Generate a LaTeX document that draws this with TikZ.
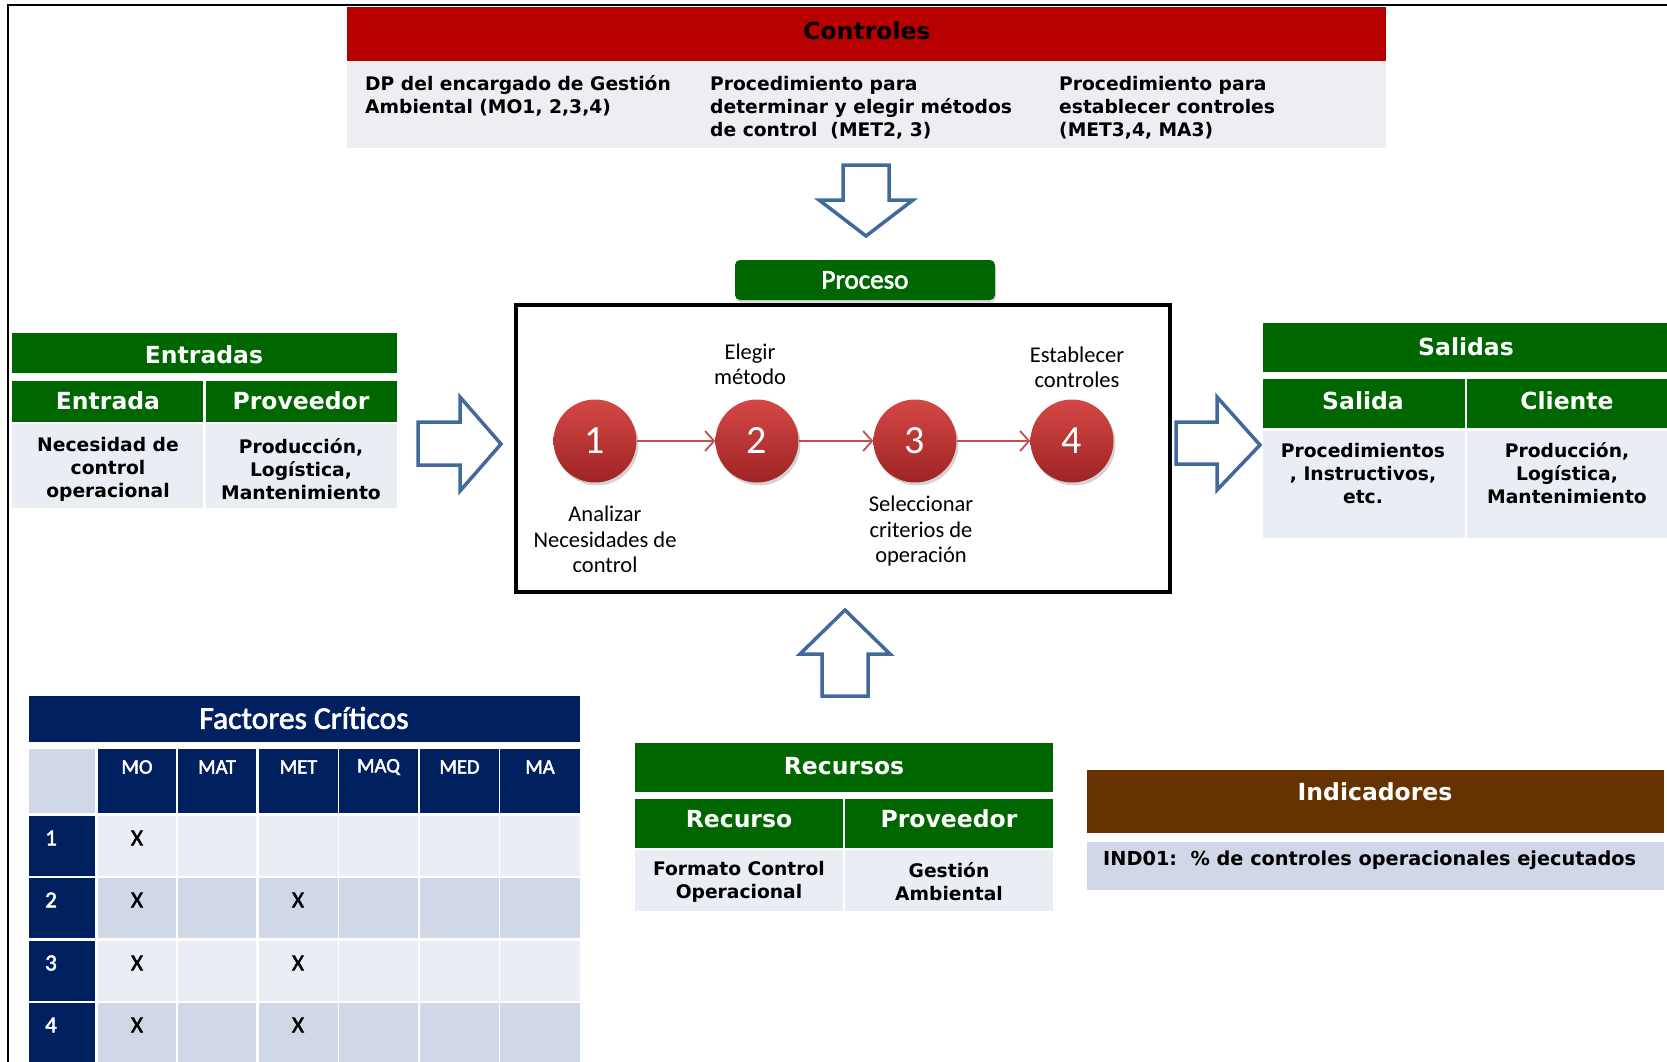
\documentclass[tikz,border=0pt]{standalone}
\usepackage{fontspec}
\setmainfont{DejaVu Sans}
\newfontfamily\calfont{Carlito}[AutoFakeBold=2.2]
\usetikzlibrary{arrows.meta,shadows}
\definecolor{hdrgreen}{RGB}{0,102,0}
\definecolor{hdrred}{RGB}{183,0,0}
\definecolor{hdrbrown}{RGB}{102,51,0}
\definecolor{navy}{RGB}{0,32,96}
\definecolor{paleA}{RGB}{233,237,244}
\definecolor{paleB}{RGB}{208,216,232}
\definecolor{paleC}{RGB}{237,238,242}
\definecolor{arrowblue}{RGB}{65,105,155}
\definecolor{flowred}{RGB}{192,80,77}
\definecolor{ballTop}{RGB}{212,72,70}
\definecolor{ballBot}{RGB}{158,36,36}

\begin{document}
\begin{tikzpicture}[x=1pt,y=-1pt,
  hdr/.style={text=white,font=\bfseries\fontsize{23.5}{28}\selectfont,inner sep=0pt},
  body/.style={font=\bfseries\fontsize{18.7}{23}\selectfont,align=center,inner sep=0pt},
  lbl/.style={font=\calfont\fontsize{22.5}{25.5}\selectfont,align=center,inner sep=0pt},
  fat/.style={draw=arrowblue,line width=3.5pt,fill=white,line join=miter},
  ball/.style={circle,minimum size=83pt,inner sep=0pt,top color=ballTop,bottom color=ballBot,
    text=white,font=\calfont\fontsize{40}{40}\selectfont,
    drop shadow={opacity=0.35,shadow xshift=2pt,shadow yshift=-3pt}},
  flow/.style={draw=flowred,line width=1.8pt,-{Straight Barb[length=9pt,width=20pt]}},
  fc/.style={font=\calfont\bfseries\fontsize{20.5}{24}\selectfont,inner sep=0pt},
  xcell/.style={font=\calfont\bfseries\fontsize{23}{24}\selectfont,inner sep=0pt},
]
\useasboundingbox (0,0) rectangle (1667,1062);
\clip (0,0) rectangle (1667,1062);

% outer frame
\draw[line width=2.5pt] (8,1075) -- (8,5) -- (1680,5);

% Controles
\fill[hdrred] (347,7) rectangle (1386,61);
\fill[paleC] (347,61) rectangle (1386,148);
\node[hdr,text=black] (ctrlT) at (867,31) {Controles};
\node[body,align=left,anchor=west] (ctrl1) at (365,96) {DP del encargado de Gestión\\Ambiental (MO1, 2,3,4)};
\node[body,align=left,anchor=west] (ctrl2) at (710,108) {Procedimiento para\\determinar y elegir métodos\\de control~ (MET2, 3)};
\node[body,align=left,anchor=west] (ctrl3) at (1059,108) {Procedimiento para\\establecer controles\\(MET3,4, MA3)};

% arrow from Controles down to the process
\draw[fat] (843,165) -- (889,165) -- (889,200) -- (913,200) -- (866,236) -- (819,200) -- (843,200) -- cycle;

% Proceso
\node[rectangle,rounded corners=5pt,fill=hdrgreen,minimum width=260pt,minimum height=40pt,
  drop shadow={opacity=0.3,shadow xshift=1pt,shadow yshift=-2.5pt},text=white,
  font=\calfont\bfseries\fontsize{27}{30}\selectfont,inner sep=0pt] (proc) at (865,280) {Proceso};
\draw[line width=3.5pt] (516,305) rectangle (1170,592);

\node[ball] (s1) at (595,441) {1};
\node[ball] (s2) at (757,441) {2};
\node[ball] (s3) at (915,441) {3};
\node[ball] (s4) at (1072,441) {4};
\draw[flow] (s1) -- (s2);
\draw[flow] (s2) -- (s3);
\draw[flow] (s3) -- (s4);

\node[lbl] (l2) at (750,364.5) {Elegir\\método};
\node[lbl] (l4) at (1077,367.5) {Establecer\\controles};
\node[lbl] (l1) at (605,539.5) {Analizar\\Necesidades de\\control};
\node[lbl] (l3) at (921,531) {Seleccionar\\criterios de\\operación};

% Entradas
\fill[hdrgreen] (12,333) rectangle (397,373);
\fill[hdrgreen] (12,381) rectangle (203,422);
\fill[hdrgreen] (206,381) rectangle (397,422);
\fill[paleA] (12,424) rectangle (203,508);
\fill[paleA] (206,424) rectangle (397,508);
\node[hdr] (inT) at (204,355) {Entradas};
\node[hdr] (inA) at (108,401) {Entrada};
\node[hdr] (inB) at (301,401) {Proveedor};
\node[body] (inA1) at (108,469) {Necesidad de\\control\\operacional};
\node[body] (inB1) at (301,469) {Producción,\\Logística,\\Mantenimiento};

\draw[fat] (418,422) -- (460,422) -- (460,397) -- (501,444) -- (460,491) -- (460,465) -- (418,465) -- cycle;

% Salidas
\fill[hdrgreen] (1263,323) rectangle (1680,372);
\fill[hdrgreen] (1263,379) rectangle (1465,428);
\fill[hdrgreen] (1467,379) rectangle (1680,428);
\fill[paleA] (1263,431) rectangle (1465,538);
\fill[paleA] (1467,431) rectangle (1680,538);
\node[hdr] (outT) at (1466,347) {Salidas};
\node[hdr] (outA) at (1363,401) {Salida};
\node[hdr] (outB) at (1567,401) {Cliente};
\node[body] (outA1) at (1363,473.5) {Procedimientos\\, Instructivos,\\etc.};
\node[body] (outB1) at (1567,473.5) {Producción,\\Logística,\\Mantenimiento};

\draw[fat] (1176,422) -- (1217,422) -- (1217,397) -- (1260,445) -- (1217,490) -- (1217,464) -- (1176,464) -- cycle;

% arrow from Recursos up to the process
\draw[fat] (822,696) -- (822,654) -- (800,654) -- (845,610) -- (890,654) -- (868,654) -- (868,696) -- cycle;

% Recursos
\fill[hdrgreen] (635,743) rectangle (1053,792);
\fill[hdrgreen] (635,799) rectangle (843,848);
\fill[hdrgreen] (845,799) rectangle (1053,848);
\fill[paleA] (635,850) rectangle (843,911);
\fill[paleA] (845,850) rectangle (1053,911);
\node[hdr] (resT) at (844,766) {Recursos};
\node[hdr] (resA) at (739,819) {Recurso};
\node[hdr] (resB) at (949,819) {Proveedor};
\node[body] (resA1) at (739,881.5) {Formato Control\\Operacional};
\node[body] (resB1) at (949,881.5) {Gestión\\Ambiental};

% Indicadores
\fill[hdrbrown] (1087,770) rectangle (1664,833);
\fill[paleB] (1087,842) rectangle (1664,890);
\node[hdr] (indT) at (1375,792) {Indicadores};
\node[body,anchor=west,font=\bfseries\fontsize{19.3}{23}\selectfont] (ind1) at (1103,860) {IND01:\ \ \% de controles operacionales ejecutados};

% Factores Criticos
\fill[navy] (29,696) rectangle (580,742);
\node[fc,text=white,font=\calfont\bfseries\fontsize{31.5}{33}\selectfont] (fcT) at (304,718) {Factores Críticos};
\fill[paleB] (29,749) rectangle (95,813);
\foreach \a/\b/\t in {98/176/MO,178/256/MAT,259/338/MET,339/418/MAQ,420/499/MED,500/580/MA}{
  \fill[navy] (\a,749) rectangle (\b,813);
  \node[fc,text=white] (h\t) at ({(\a+\b)/2},767) {\t};
}
\foreach \r/\t/\u/\c in {1/816/876/paleA,2/878/938/paleB,3/941/1001/paleA,4/1003/1075/paleB}{
  \fill[navy] (29,\t) rectangle (95,\u);
  \foreach \a/\b in {98/176,178/256,259/338,339/418,420/499,500/580}{
    \fill[\c] (\a,\t) rectangle (\b,\u);
  }
  \node[xcell,text=white] (r\r) at (51,\t+22) {\r};
  \node[xcell] (mo\r) at (137,\t+22) {X};
}
\node[xcell] (met2) at (298,900) {X};
\node[xcell] (met3) at (298,963) {X};
\node[xcell] (met4) at (298,1025) {X};
\end{tikzpicture}
\end{document}
